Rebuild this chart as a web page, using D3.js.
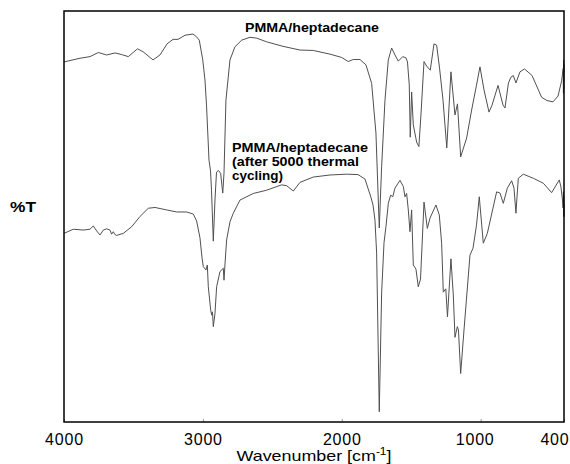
<!DOCTYPE html>
<meta charset="UTF-8">
<html lang="en">
<head><link rel="icon" href="data:,"></head>
<style>
body {
  margin: 0;
  background: #fff;
  font-family: "Liberation Sans", Arial, sans-serif;
}
.spec {
  fill: none;
  stroke: #505050;
  stroke-width: 1;
  stroke-linejoin: round;
}
</style>
<script src="https://unpkg.com/d3@7.0.1/dist/d3.min.js"></script>
<body>
<svg id="view"></svg>
</body>
<script>
const viewDims = { width: 570, height: 464 };
const margin = { top: 11, right: 6, bottom: 42, left: 64 };

// upper trace: PMMA/heptadecane
const topWave = [4000,3885,3813,3753,3693,3633,3585,3537,3471,3431,3359,3309,3258,3215,3179,3129,3071,3045,3026,3001,
  2985,2974,2956,2945,2938,2925,2913,2902,2888,2872,2857,2848,2834,2805,2769,2721,2661,2613,2541,2423,2301,2205,2085,
  2001,1953,1917,1869,1826,1785,1754,1730,1713,1689,1665,1641,1617,1593,1561,1538,1527,1514,1507,1497,1485,1461,1445,
  1430,1408,1389,1363,1336,1317,1296,1271,1244,1214,1185,1167,1144,1101,1065,1031,1005,976,940,918,875,839,825,800,782,
  765,746,717,684,630,561,522,479,443,417,406,404,403,402,401,400];
const topT = [87.6,88.5,88.9,89.9,89.3,89.8,89.4,88.9,90.8,90.1,88.1,89.3,92.0,93.1,93.1,94.1,94.4,93.7,92.9,88.1,
  83.2,77.1,63.7,61.1,56.4,44.0,54.0,60.8,61.2,60.5,55.7,60.6,78.3,88.1,91.3,92.9,93.6,93.4,92.5,91.4,90.5,90.4,89.5,
  88.7,87.7,88.2,88.2,86.9,82.4,70.3,47.2,62.1,78.3,88.1,91.0,89.3,87.8,88.9,88.6,87.6,82.0,69.3,80.3,72.3,68.1,67.0,
  74.7,87.7,86.6,85.6,92.0,91.7,86.1,78.3,66.7,85.2,74.7,77.4,64.5,69.1,75.9,81.8,86.4,80.8,75.4,77.1,81.9,77.1,76.4,82.5,83.9,
  84.3,82.5,85.2,85.9,84.3,79.0,78.2,77.9,79.3,83.0,86.0,80,88,81,87,85];

// lower trace: after 5000 thermal cycles
const botWave = [4000,3933,3861,3813,3789,3765,3741,3717,3693,3669,3657,3645,3633,3621,3573,3513,3453,3393,3345,3261,
  3189,3117,3069,3045,3021,3006,2997,2978,2968,2961,2944,2937,2931,2925,2913,2901,2877,2853,2848,2839,2829,2805,2781,
  2733,2637,2541,2433,2397,2349,2301,2205,2085,1965,1883,1833,1793,1775,1761,1749,1730,1713,1696,1682,1665,1648,1633,
  1617,1581,1557,1545,1533,1521,1509,1497,1485,1466,1449,1433,1408,1384,1365,1322,1298,1281,1269,1251,1239,1214,1197,
  1185,1168,1160,1144,1120,1101,1077,1055,1030,1010,981,952,885,861,837,808,777,760,746,735,729,693,621,549,489,434,
  422,411,407,404,403,402,401,400];
const botT = [45.9,46.9,46.7,46.9,47.7,46.5,45.5,46.7,47.0,46.7,45.7,46.3,45.6,45.4,45.9,47.5,50.0,52.0,52.2,51.6,
  51.1,51.1,50.6,48.9,44.8,39.9,37.8,37.0,38.2,32.9,27.3,26.0,26.8,23.2,26.4,32.9,36.6,37.4,34.5,39.4,44.3,48.7,50.8,
  54.0,55.6,56.4,57.7,57.5,56.2,58.3,59.6,60.1,60.3,60.2,59.1,55.0,52.8,49.1,41.1,2.5,31.4,43.6,47.5,53.2,55.2,54.8,
  56.9,58.8,57.3,54.8,55.6,51.6,46.3,51.6,38.2,37.2,32.9,34.8,53.5,47.1,49.6,52.8,50.4,43.5,31.6,32.4,25.6,39.7,30.9,
  20.6,23.2,22.4,11.8,22.4,30.4,40.6,42.3,47.9,54.8,43.5,45.9,56.0,55.7,53.2,56.9,58.7,56.9,50.8,56.4,59.3,60.3,59.3,58.1,55.8,58.9,
  57.2,54.0,52.1,56,50,55,50,53];

const tickVals = [4000, 3000, 2000, 1000, 400];
const topLabel = ["PMMA/heptadecane"];
const botLabel = ["PMMA/heptadecane", "(after 5000 thermal", "cycling)"];

const svg = d3.select("svg#view")
  .attr("width", viewDims.width)
  .attr("height", viewDims.height);

const x = d3.scaleLinear().domain([4000, 400]).range([margin.left, viewDims.width - margin.right]);
const y = d3.scaleLinear().domain([0, 100]).range([viewDims.height - margin.bottom, margin.top]);

const line = d3.line().x(d => x(d[0])).y(d => y(d[1]));

svg.append("path").attr("class", "spec").attr("d", line(d3.zip(topWave, topT)));
svg.append("path").attr("class", "spec").attr("d", line(d3.zip(botWave, botT)));

// bottom axis, ticks pointing inward
const xAxis = d3.axisBottom(x).tickValues(tickVals).tickFormat(d3.format("d"))
  .tickSizeInner(-3).tickSizeOuter(0).tickPadding(12);
const gx = svg.append("g")
  .attr("transform", `translate(0,${y(0)})`)
  .call(xAxis);
gx.select(".domain").remove();
gx.selectAll(".tick line").attr("stroke", "#999");
gx.selectAll(".tick text")
  .attr("fill", "#000")
  .style("font-family", "'Liberation Sans', Arial, sans-serif")
  .style("font-size", "16px")
  .style("letter-spacing", "0.8px");
// last label sits against the right edge, as in the source figure
gx.selectAll(".tick text").filter(d => d === 400)
  .attr("text-anchor", "end").attr("dx", 5);
gx.selectAll(".tick text").filter(d => d === 1000)
  .attr("dx", -6);

// frame
svg.append("rect")
  .attr("x", x(4000)).attr("y", y(100))
  .attr("width", x(400) - x(4000)).attr("height", y(0) - y(100))
  .attr("fill", "none").attr("stroke", "#000").attr("stroke-width", 1.5);

// axis titles
const xt = svg.append("text")
  .attr("x", 314).attr("y", 461)
  .attr("text-anchor", "middle")
  .style("font-size", "15px")
  .attr("textLength", 155).attr("lengthAdjust", "spacingAndGlyphs");
xt.append("tspan").text("Wavenumber [cm");
xt.append("tspan").attr("dy", -6).style("font-size", "10px").text("-1");
xt.append("tspan").attr("dy", 6).text("]");

svg.append("text")
  .attr("x", 10).attr("y", 212)
  .style("font-size", "14px").style("font-weight", "bold")
  .attr("textLength", 26).attr("lengthAdjust", "spacingAndGlyphs")
  .text("%T");

// series labels
svg.append("text")
  .attr("x", 245).attr("y", 32)
  .style("font-size", "12.5px").style("font-weight", "bold")
  .attr("textLength", 134).attr("lengthAdjust", "spacingAndGlyphs")
  .text(topLabel[0]);

const botWidths = [136, 127, 51];
botLabel.forEach((t, i) => {
  svg.append("text")
    .attr("x", 232).attr("y", 152 + i * 14)
    .style("font-size", "12.5px").style("font-weight", "bold")
    .attr("textLength", botWidths[i]).attr("lengthAdjust", "spacingAndGlyphs")
    .text(t);
});
</script>
</html>
